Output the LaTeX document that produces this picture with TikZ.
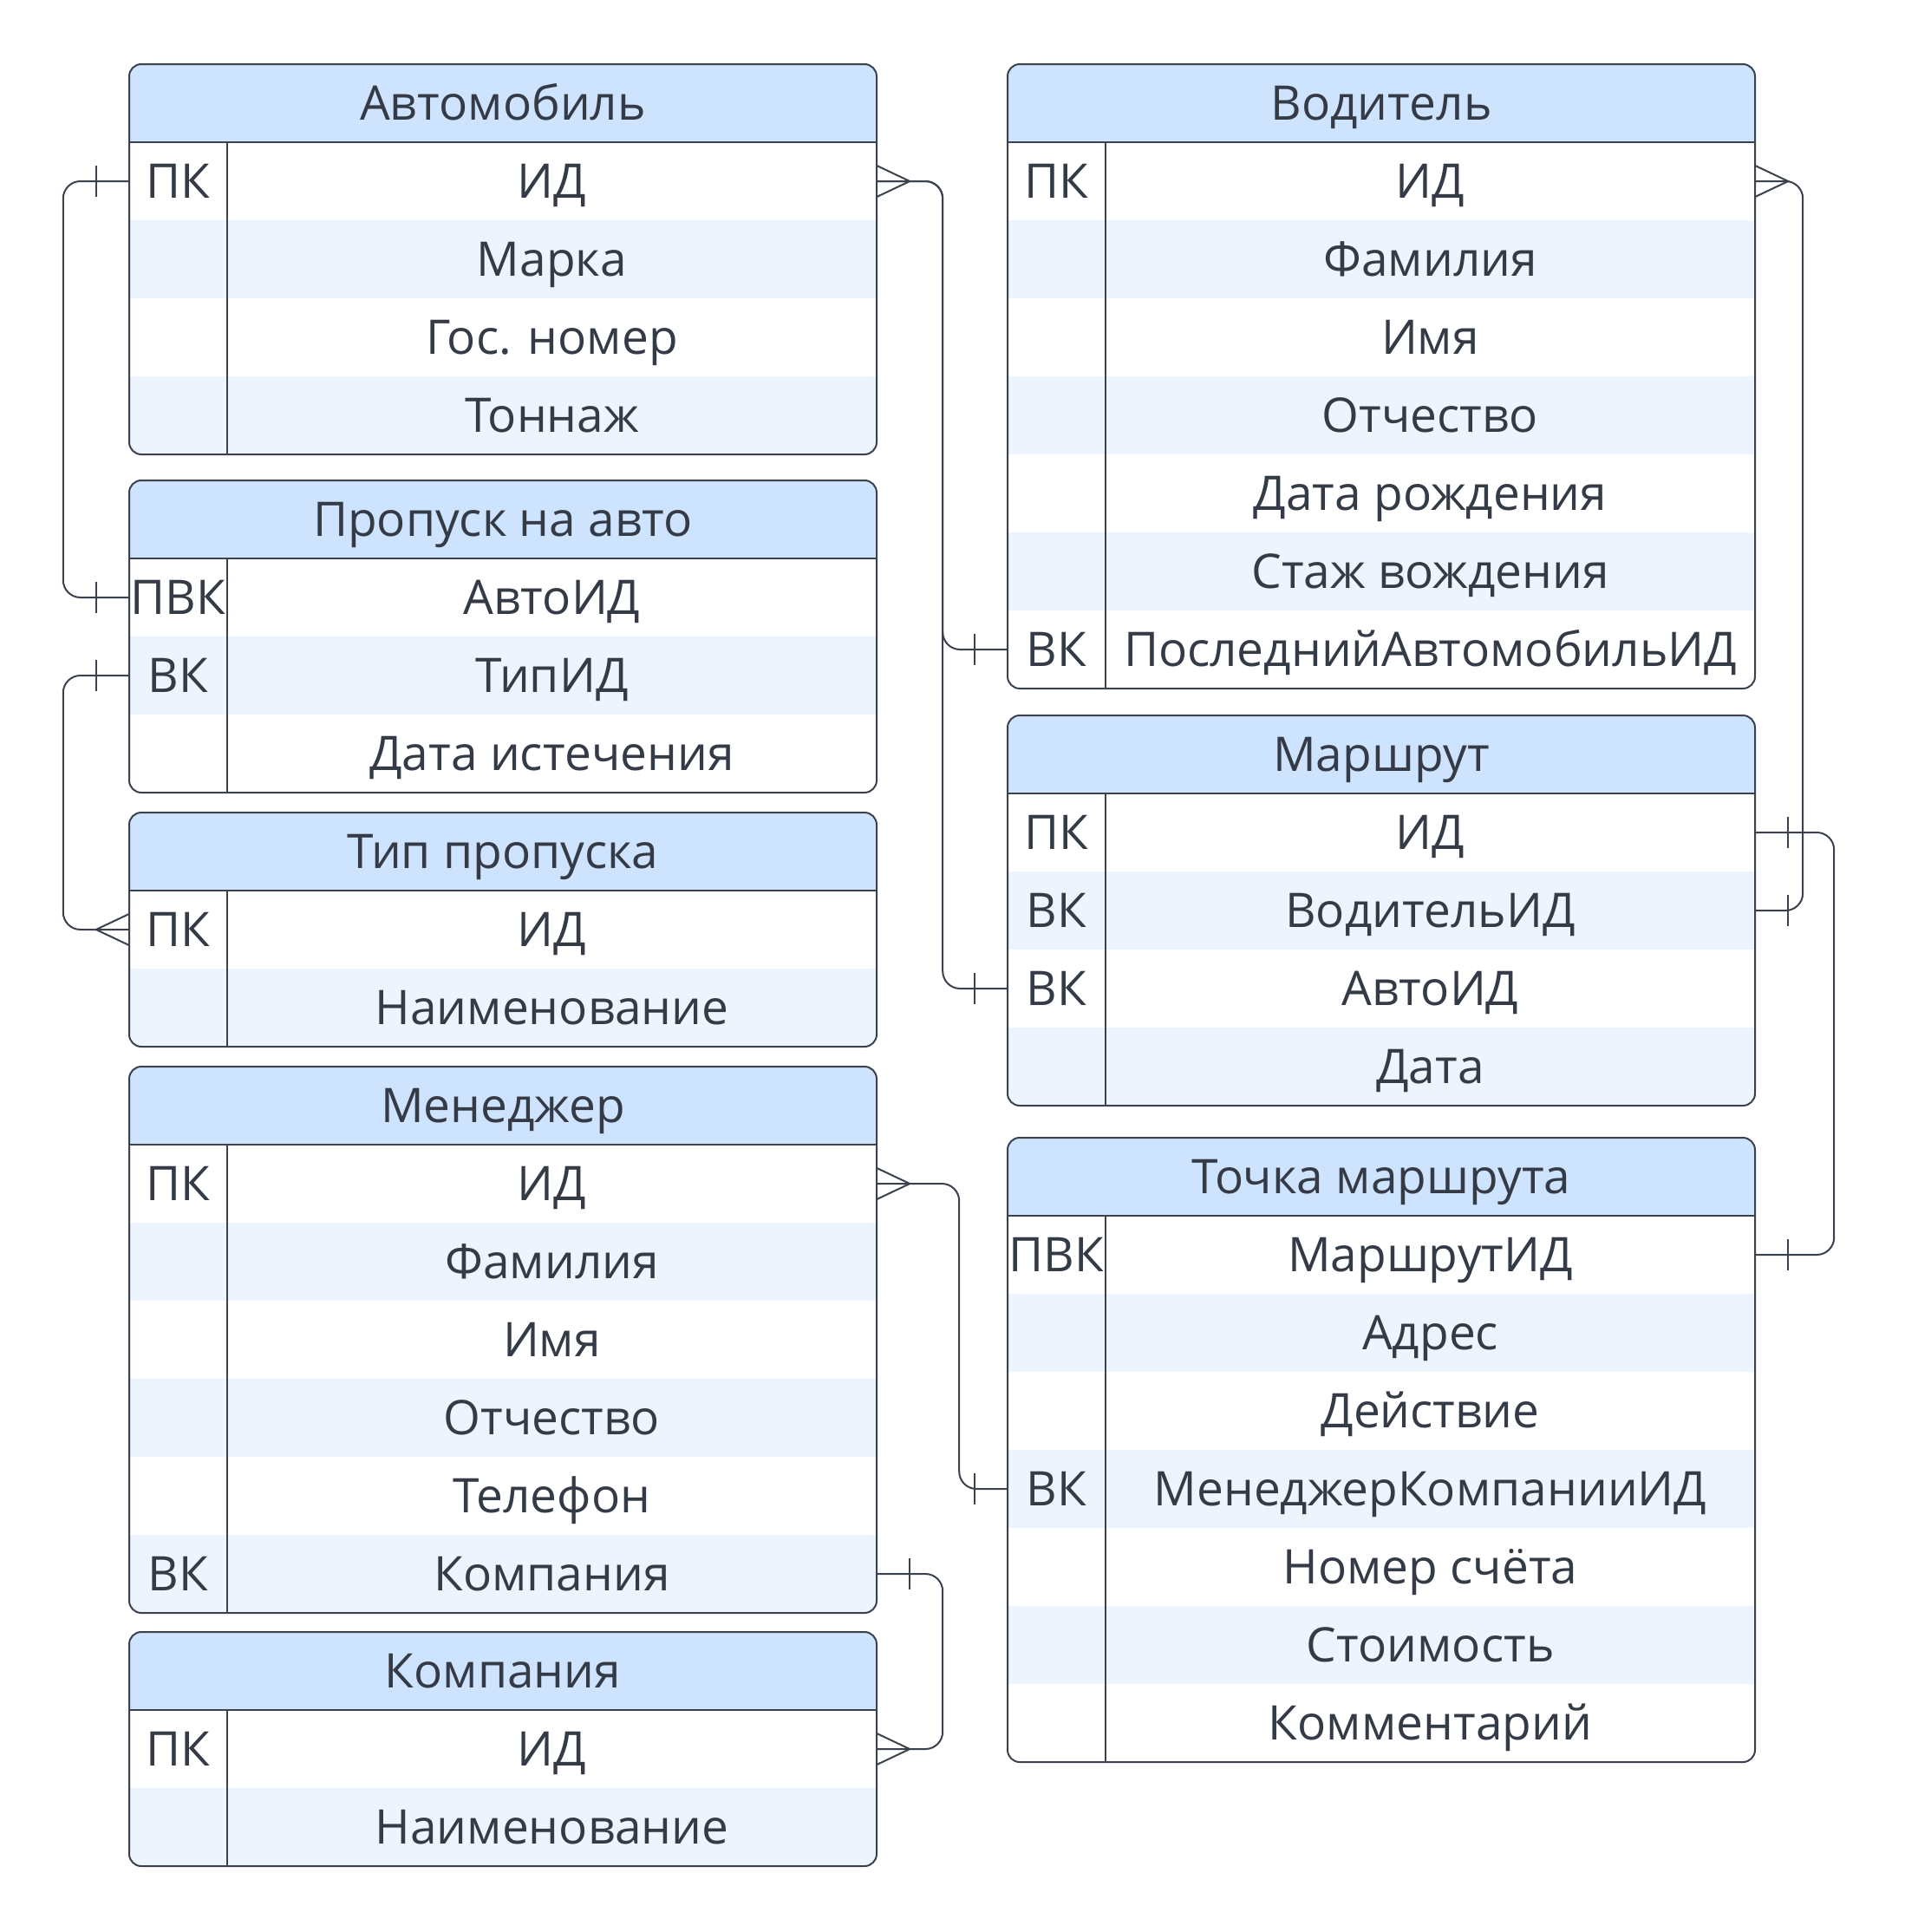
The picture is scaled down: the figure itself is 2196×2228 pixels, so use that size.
\documentclass[tikz,border=0pt]{standalone}
\usepackage{fontspec}
\setmainfont{Open Sans}
\usetikzlibrary{calc}
\definecolor{hdrc}{HTML}{CEE3FD}
\definecolor{stripec}{HTML}{EDF4FE}
\definecolor{linec}{HTML}{3B424D}
\definecolor{txtc}{HTML}{343B46}
\tikzset{
  tline/.style={draw=linec, line width=2pt},
  rel/.style={draw=linec, line width=2pt, rounded corners=20pt},
  relmark/.style={draw=linec, line width=2pt},
  rowbox/.style={draw=none, inner sep=0pt, minimum width=862pt, minimum height=90pt},
  ertext/.style={text=txtc, inner sep=0pt, anchor=base, font=\fontsize{55}{64}\selectfont},
}
% #1 name, #2 left x, #3 top y, #4 number of rows, #5 title, #6 rows {key/field,...}
\newcommand\ertable[6]{%
  \pgfmathsetmacro\tbot{#3+90*(#4+1)}%
  \begin{scope}
    \clip[rounded corners=14pt] (#2,#3) rectangle (#2+862,\tbot);
    \node[rowbox, fill=hdrc] (#1-h) at (#2+431,#3+45) {};
    \foreach \k/\f [count=\i] in {#6} {
      \pgfmathsetmacro\ry{#3+90*\i+45}
      \ifodd\i \def\rf{white}\else\def\rf{stripec}\fi
      \node[rowbox, fill=\rf] (#1-\i) at (#2+431,\ry) {};
    }
  \end{scope}
  \foreach \k/\f [count=\i] in {#6} {
    \pgfmathsetmacro\ry{#3+90*\i+64.5}
    \node[ertext] (#1-\i-k) at (#2+56.5,\ry) {\k};
    \node[ertext] (#1-\i-f) at (#2+487.5,\ry) {\f};
  }
  \node[ertext] (#1-t) at (#2+431,#3+64.5) {#5};
  \draw[tline, rounded corners=14pt] (#2,#3) rectangle (#2+862,\tbot);
  \draw[tline] (#2,#3+90) -- (#2+862,#3+90);
  \draw[tline] (#2+113,#3+90) -- (#2+113,\tbot);
}
\newcommand\onebar[2]{\draw[relmark] ($(#1)+(#2,-18)$) -- ($(#1)+(#2,18)$);}
\newcommand\crowfoot[2]{\draw[relmark] ($(#1)+(0,-18)$) -- ($(#1)+(#2,0)$) -- ($(#1)+(0,18)$);}
\begin{document}
\begin{tikzpicture}[x=1pt, y=-1pt]
\useasboundingbox (0,0) rectangle (2196,2228);
\fill[white] (0,0) rectangle (2196,2228);
% left column
\ertable{auto}{149}{74}{4}{Автомобиль}{ПК/ИД,{}/Марка,{}/Гос. номер,{}/Тоннаж}
\ertable{pass}{149}{554}{3}{Пропуск на авто}{ПВК/АвтоИД,ВК/ТипИД,{}/Дата истечения}
\ertable{typ}{149}{937}{2}{Тип пропуска}{ПК/ИД,{}/Наименование}
\ertable{mgr}{149}{1230}{6}{Менеджер}{ПК/ИД,{}/Фамилия,{}/Имя,{}/Отчество,{}/Телефон,ВК/Компания}
\ertable{co}{149}{1882}{2}{Компания}{ПК/ИД,{}/Наименование}
% right column
\ertable{drv}{1162}{74}{7}{Водитель}{ПК/ИД,{}/Фамилия,{}/Имя,{}/Отчество,{}/Дата рождения,{}/Стаж вождения,ВК/ПоследнийАвтомобильИД}
\ertable{rte}{1162}{825}{4}{Маршрут}{ПК/ИД,ВК/ВодительИД,ВК/АвтоИД,{}/Дата}
\ertable{pt}{1162}{1312}{7}{Точка маршрута}{ПВК/МаршрутИД,{}/Адрес,{}/Действие,ВК/МенеджерКомпанииИД,{}/Номер счёта,{}/Стоимость,{}/Комментарий}
% relations
\draw[rel] (auto-1.west) -- ++(-76,0) |- (pass-1.west);
\onebar{auto-1.west}{-38}
\onebar{pass-1.west}{-38}
\draw[rel] (pass-2.west) -- ++(-76,0) |- (typ-1.west);
\onebar{pass-2.west}{-38}
\crowfoot{typ-1.west}{-38}
\draw[rel] (auto-1.east) -- ++(76,0) |- (drv-7.west);
\draw[rel] (auto-1.east) -- ++(76,0) |- (rte-3.west);
\crowfoot{auto-1.east}{38}
\onebar{drv-7.west}{-38}
\onebar{rte-3.west}{-38}
\draw[rel] (drv-1.east) -- ++(55,0) |- (rte-2.east);
\crowfoot{drv-1.east}{38}
\onebar{rte-2.east}{38}
\draw[rel] (rte-1.east) -- ++(91,0) |- (pt-1.east);
\onebar{rte-1.east}{38}
\onebar{pt-1.east}{38}
\draw[rel] (mgr-1.east) -- ++(95,0) |- (pt-4.west);
\crowfoot{mgr-1.east}{38}
\onebar{pt-4.west}{-38}
\draw[rel] (mgr-6.east) -- ++(76,0) |- (co-1.east);
\onebar{mgr-6.east}{38}
\crowfoot{co-1.east}{38}
\end{tikzpicture}
\end{document}
